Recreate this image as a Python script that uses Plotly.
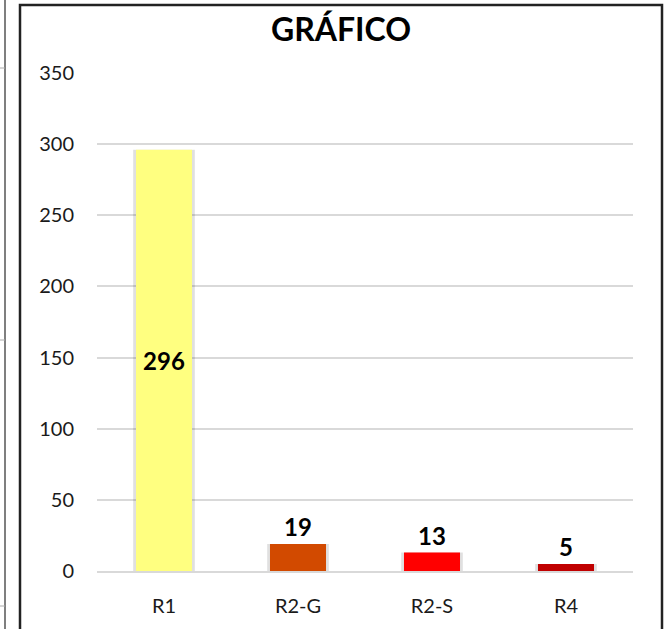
import plotly.graph_objects as go

categories = ['R1', 'R2-G', 'R2-S', 'R4']
values = [296, 19, 13, 5]
colors = ['#FFFF80', '#D24A00', '#FF0000', '#C00000']
text_pos = ['inside', 'outside', 'outside', 'outside']
y_ticks = [0, 50, 100, 150, 200, 250, 300, 350]

W, H = 665, 629
L, R, T, B = 97, 32, 73, 58


def px_x(px):
    return (px - L) / (W - L - R)


def px_y(py):
    return (H - B - py) / (H - T - B)


fig = go.Figure()
# soft shadow behind each bar
fig.add_trace(go.Bar(
    x=categories,
    y=values,
    width=0.46,
    marker=dict(color='rgba(0,0,0,0.12)', line=dict(width=0)),
    hoverinfo='skip',
))
fig.add_trace(go.Bar(
    x=categories,
    y=values,
    width=0.418,
    marker=dict(color=colors, line=dict(width=0)),
    text=[str(v) for v in values],
    textposition=text_pos,
    insidetextanchor='middle',
    textfont=dict(family='Lato', size=24, color='black', weight='bold'),
    cliponaxis=False,
))

shapes = [
    dict(type='rect', xref='paper', yref='paper',
         x0=px_x(20), x1=px_x(662), y0=px_y(5), y1=px_y(660),
         line=dict(color='#222222', width=2.5), layer='above'),
    dict(type='line', xref='paper', yref='paper',
         x0=px_x(5), x1=px_x(5), y0=px_y(0), y1=px_y(629),
         line=dict(color='#555555', width=1.5)),
]
for yy in [68, 340, 606]:
    shapes.append(dict(type='line', xref='paper', yref='paper',
                       x0=px_x(0), x1=px_x(5), y0=px_y(yy), y1=px_y(yy),
                       line=dict(color='#aaaaaa', width=1)))

fig.update_layout(
    width=W, height=H,
    margin=dict(l=L, r=R, t=T, b=B),
    paper_bgcolor='white',
    plot_bgcolor='white',
    barmode='overlay',
    showlegend=False,
    font=dict(family='Lato', size=20, color='#1a1a1a'),
    title=dict(text='<b>GRÁFICO</b>', x=px_x(341), xref='paper', xanchor='center',
               y=1 - 30 / H, yanchor='middle',
               font=dict(family='Lato', size=32, color='black')),
    shapes=shapes,
)
fig.update_yaxes(range=[0, 350], tickvals=y_ticks, showgrid=True,
                 gridcolor='#d9d9d9', gridwidth=1.5, zeroline=False,
                 showline=False, ticks='', ticklabelstandoff=22)
fig.update_xaxes(showline=True, linecolor='#d9d9d9', linewidth=2,
                 ticks='', ticklabelstandoff=16)

fig.write_html('out.html', config={'displayModeBar': False},
               post_script="document.body.style.margin='0';")
